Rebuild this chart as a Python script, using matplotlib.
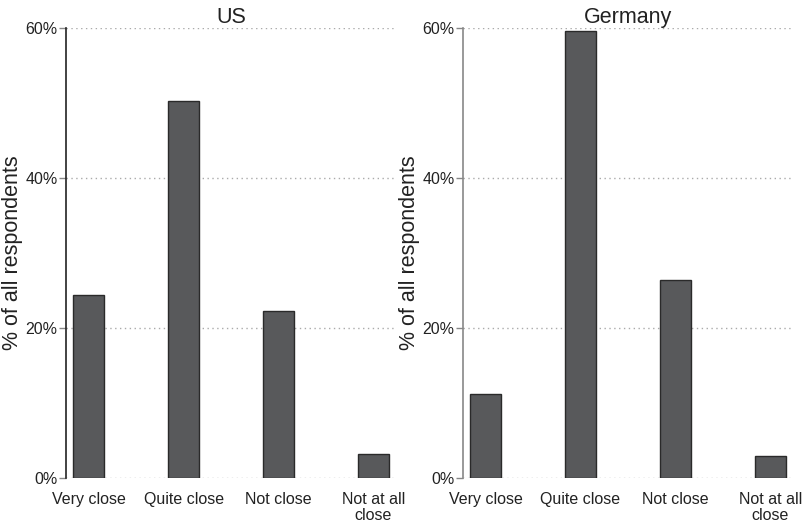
import numpy as np
import matplotlib.pyplot as plt
from matplotlib.ticker import FuncFormatter

plt.rcParams['font.family'] = ['Liberation Sans', 'DejaVu Sans']

categories = ["Very close", "Quite close", "Not close", "Not at all\nclose"]
countries = ["US", "Germany"]
us_pct = [24.4, 50.3, 22.2, 3.2]
de_pct = [11.2, 59.6, 26.4, 2.9]
yticks = [0, 20, 40, 60]

fig = plt.figure(figsize=(8.06, 5.26), dpi=100)
ax_us = fig.add_axes([0.0819, 0.0913, 0.4094, 0.8555])
ax_de = fig.add_axes([0.5744, 0.0913, 0.4094, 0.8555])

x = np.arange(len(categories))
for ax, name, vals, spine_col in [(ax_us, countries[0], us_pct, "#222222"),
                                  (ax_de, countries[1], de_pct, "#888888")]:
    ax.bar(x, vals, width=0.33, color="#58595b", edgecolor="#2a2a2a",
           linewidth=1.0, zorder=3)
    ax.set_xlim(-0.24, 3.24)
    ax.set_ylim(0, 60)
    ax.set_yticks(yticks)
    ax.yaxis.set_major_formatter(FuncFormatter(lambda v, p: f"{v:.0f}%"))
    ax.set_xticks(x)
    ax.set_xticklabels(categories, fontsize=11.5, color="#222222",
                       linespacing=1.1)
    ax.tick_params(axis='x', length=0, pad=10)
    ax.tick_params(axis='y', length=5, width=1, color="#888888",
                   labelsize=11.5, labelcolor="#222222", pad=1)
    ax.grid(axis='y', linestyle=(0, (1, 2.5)), color="#aaaaaa",
            linewidth=1, zorder=0)
    for s in ["top", "right", "bottom"]:
        ax.spines[s].set_visible(False)
    ax.spines["left"].set_color(spine_col)
    ax.spines["left"].set_linewidth(1.2)
    ax.set_title(name, fontsize=15.5, color="#222222", pad=2)
    ax.set_ylabel("% of all respondents", fontsize=15.5, color="#222222",
                  labelpad=2)

fig.savefig("out.png", dpi=100)
